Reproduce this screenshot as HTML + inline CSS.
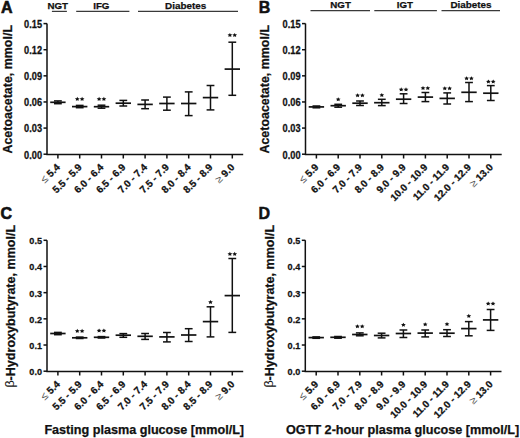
<!DOCTYPE html>
<html><head><meta charset="utf-8"><style>
html,body{margin:0;padding:0;background:#fff;}
body{width:520px;height:438px;overflow:hidden;}
svg{display:block;}
</style></head><body>
<svg width="520" height="438" viewBox="0 0 520 438" font-family='"Liberation Sans", sans-serif'>
<style>text{stroke:#111;stroke-width:0.25px} .sym{stroke:none}</style>
<rect width="520" height="438" fill="#fff"/>
<path d="M47.00 23.60 V154.50 H243.20" fill="none" stroke="#111" stroke-width="1.5"/>
<line x1="43.50" y1="154.20" x2="47.00" y2="154.20" stroke="#111" stroke-width="1.5"/>
<text transform="translate(42.00,158.60) scale(0.98,1.14)" font-size="9.4" font-weight="bold" text-anchor="end" fill="#111">0.00</text>
<line x1="43.50" y1="128.08" x2="47.00" y2="128.08" stroke="#111" stroke-width="1.5"/>
<text transform="translate(42.00,132.48) scale(0.98,1.14)" font-size="9.4" font-weight="bold" text-anchor="end" fill="#111">0.03</text>
<line x1="43.50" y1="101.96" x2="47.00" y2="101.96" stroke="#111" stroke-width="1.5"/>
<text transform="translate(42.00,106.36) scale(0.98,1.14)" font-size="9.4" font-weight="bold" text-anchor="end" fill="#111">0.06</text>
<line x1="43.50" y1="75.84" x2="47.00" y2="75.84" stroke="#111" stroke-width="1.5"/>
<text transform="translate(42.00,80.24) scale(0.98,1.14)" font-size="9.4" font-weight="bold" text-anchor="end" fill="#111">0.09</text>
<line x1="43.50" y1="49.72" x2="47.00" y2="49.72" stroke="#111" stroke-width="1.5"/>
<text transform="translate(42.00,54.12) scale(0.98,1.14)" font-size="9.4" font-weight="bold" text-anchor="end" fill="#111">0.12</text>
<line x1="43.50" y1="23.60" x2="47.00" y2="23.60" stroke="#111" stroke-width="1.5"/>
<text transform="translate(42.00,28.00) scale(0.98,1.14)" font-size="9.4" font-weight="bold" text-anchor="end" fill="#111">0.15</text>
<line x1="57.90" y1="154.20" x2="57.90" y2="158.50" stroke="#111" stroke-width="1.5"/>
<text transform="translate(60.70,167.90) rotate(-45)" font-size="10" text-anchor="end" fill="#111"><tspan class="sym" font-weight="normal" fill="#555" font-size="10.6">≤</tspan><tspan font-size="10"> </tspan><tspan font-weight="bold">5.4</tspan></text>
<line x1="79.70" y1="154.20" x2="79.70" y2="158.50" stroke="#111" stroke-width="1.5"/>
<text transform="translate(82.50,167.90) rotate(-45)" font-size="10" font-weight="bold" text-anchor="end" fill="#111">5.5 - 5.9</text>
<line x1="101.50" y1="154.20" x2="101.50" y2="158.50" stroke="#111" stroke-width="1.5"/>
<text transform="translate(104.30,167.90) rotate(-45)" font-size="10" font-weight="bold" text-anchor="end" fill="#111">6.0 - 6.4</text>
<line x1="123.30" y1="154.20" x2="123.30" y2="158.50" stroke="#111" stroke-width="1.5"/>
<text transform="translate(126.10,167.90) rotate(-45)" font-size="10" font-weight="bold" text-anchor="end" fill="#111">6.5 - 6.9</text>
<line x1="145.10" y1="154.20" x2="145.10" y2="158.50" stroke="#111" stroke-width="1.5"/>
<text transform="translate(147.90,167.90) rotate(-45)" font-size="10" font-weight="bold" text-anchor="end" fill="#111">7.0 - 7.4</text>
<line x1="166.90" y1="154.20" x2="166.90" y2="158.50" stroke="#111" stroke-width="1.5"/>
<text transform="translate(169.70,167.90) rotate(-45)" font-size="10" font-weight="bold" text-anchor="end" fill="#111">7.5 - 7.9</text>
<line x1="188.70" y1="154.20" x2="188.70" y2="158.50" stroke="#111" stroke-width="1.5"/>
<text transform="translate(191.50,167.90) rotate(-45)" font-size="10" font-weight="bold" text-anchor="end" fill="#111">8.0 - 8.4</text>
<line x1="210.50" y1="154.20" x2="210.50" y2="158.50" stroke="#111" stroke-width="1.5"/>
<text transform="translate(213.30,167.90) rotate(-45)" font-size="10" font-weight="bold" text-anchor="end" fill="#111">8.5 - 8.9</text>
<line x1="232.30" y1="154.20" x2="232.30" y2="158.50" stroke="#111" stroke-width="1.5"/>
<text transform="translate(235.10,167.90) rotate(-45)" font-size="10" text-anchor="end" fill="#111"><tspan class="sym" font-weight="normal" fill="#555" font-size="10.6">≥</tspan><tspan font-size="10"> </tspan><tspan font-weight="bold">9.0</tspan></text>
<line x1="57.90" y1="100.90" x2="57.90" y2="103.70" stroke="#111" stroke-width="1.5"/>
<line x1="54.00" y1="100.90" x2="61.80" y2="100.90" stroke="#111" stroke-width="1.5"/>
<line x1="54.00" y1="103.70" x2="61.80" y2="103.70" stroke="#111" stroke-width="1.5"/>
<line x1="50.20" y1="102.30" x2="65.60" y2="102.30" stroke="#111" stroke-width="1.7"/>
<line x1="79.70" y1="105.40" x2="79.70" y2="107.70" stroke="#111" stroke-width="1.5"/>
<line x1="75.80" y1="105.40" x2="83.60" y2="105.40" stroke="#111" stroke-width="1.5"/>
<line x1="75.80" y1="107.70" x2="83.60" y2="107.70" stroke="#111" stroke-width="1.5"/>
<line x1="72.00" y1="106.60" x2="87.40" y2="106.60" stroke="#111" stroke-width="1.7"/>
<polygon points="77.30,96.85 78.03,98.16 79.68,98.37 78.49,99.39 78.77,100.83 77.30,100.15 75.83,100.83 76.11,99.39 74.92,98.37 76.57,98.16" fill="#111"/>
<polygon points="82.10,96.85 82.83,98.16 84.48,98.37 83.29,99.39 83.57,100.83 82.10,100.15 80.63,100.83 80.91,99.39 79.72,98.37 81.37,98.16" fill="#111"/>
<line x1="101.50" y1="105.20" x2="101.50" y2="108.20" stroke="#111" stroke-width="1.5"/>
<line x1="97.60" y1="105.20" x2="105.40" y2="105.20" stroke="#111" stroke-width="1.5"/>
<line x1="97.60" y1="108.20" x2="105.40" y2="108.20" stroke="#111" stroke-width="1.5"/>
<line x1="93.80" y1="106.70" x2="109.20" y2="106.70" stroke="#111" stroke-width="1.7"/>
<polygon points="99.10,96.85 99.83,98.16 101.48,98.37 100.29,99.39 100.57,100.83 99.10,100.15 97.63,100.83 97.91,99.39 96.72,98.37 98.37,98.16" fill="#111"/>
<polygon points="103.90,96.85 104.63,98.16 106.28,98.37 105.09,99.39 105.37,100.83 103.90,100.15 102.43,100.83 102.71,99.39 101.52,98.37 103.17,98.16" fill="#111"/>
<line x1="123.30" y1="100.40" x2="123.30" y2="106.00" stroke="#111" stroke-width="1.5"/>
<line x1="119.40" y1="100.40" x2="127.20" y2="100.40" stroke="#111" stroke-width="1.5"/>
<line x1="119.40" y1="106.00" x2="127.20" y2="106.00" stroke="#111" stroke-width="1.5"/>
<line x1="115.60" y1="103.20" x2="131.00" y2="103.20" stroke="#111" stroke-width="1.7"/>
<line x1="145.10" y1="100.00" x2="145.10" y2="108.70" stroke="#111" stroke-width="1.5"/>
<line x1="141.20" y1="100.00" x2="149.00" y2="100.00" stroke="#111" stroke-width="1.5"/>
<line x1="141.20" y1="108.70" x2="149.00" y2="108.70" stroke="#111" stroke-width="1.5"/>
<line x1="137.40" y1="104.40" x2="152.80" y2="104.40" stroke="#111" stroke-width="1.7"/>
<line x1="166.90" y1="97.10" x2="166.90" y2="110.20" stroke="#111" stroke-width="1.5"/>
<line x1="163.00" y1="97.10" x2="170.80" y2="97.10" stroke="#111" stroke-width="1.5"/>
<line x1="163.00" y1="110.20" x2="170.80" y2="110.20" stroke="#111" stroke-width="1.5"/>
<line x1="159.20" y1="103.50" x2="174.60" y2="103.50" stroke="#111" stroke-width="1.7"/>
<line x1="188.70" y1="91.90" x2="188.70" y2="115.60" stroke="#111" stroke-width="1.5"/>
<line x1="184.80" y1="91.90" x2="192.60" y2="91.90" stroke="#111" stroke-width="1.5"/>
<line x1="184.80" y1="115.60" x2="192.60" y2="115.60" stroke="#111" stroke-width="1.5"/>
<line x1="181.00" y1="103.50" x2="196.40" y2="103.50" stroke="#111" stroke-width="1.7"/>
<line x1="210.50" y1="85.50" x2="210.50" y2="109.90" stroke="#111" stroke-width="1.5"/>
<line x1="206.60" y1="85.50" x2="214.40" y2="85.50" stroke="#111" stroke-width="1.5"/>
<line x1="206.60" y1="109.90" x2="214.40" y2="109.90" stroke="#111" stroke-width="1.5"/>
<line x1="202.80" y1="97.60" x2="218.20" y2="97.60" stroke="#111" stroke-width="1.7"/>
<line x1="232.30" y1="42.20" x2="232.30" y2="95.30" stroke="#111" stroke-width="1.5"/>
<line x1="228.40" y1="42.20" x2="236.20" y2="42.20" stroke="#111" stroke-width="1.5"/>
<line x1="228.40" y1="95.30" x2="236.20" y2="95.30" stroke="#111" stroke-width="1.5"/>
<line x1="224.60" y1="69.10" x2="240.00" y2="69.10" stroke="#111" stroke-width="1.7"/>
<polygon points="229.90,33.05 230.63,34.36 232.28,34.57 231.09,35.59 231.37,37.03 229.90,36.35 228.43,37.03 228.71,35.59 227.52,34.57 229.17,34.36" fill="#111"/>
<polygon points="234.70,33.05 235.43,34.36 237.08,34.57 235.89,35.59 236.17,37.03 234.70,36.35 233.23,37.03 233.51,35.59 232.32,34.57 233.97,34.36" fill="#111"/>
<text transform="translate(11.50,89.30) rotate(-90)" font-size="12.45" font-weight="bold" text-anchor="middle" fill="#111">Acetoacetate, mmol/L</text>
<path d="M305.50 23.60 V154.50 H501.70" fill="none" stroke="#111" stroke-width="1.5"/>
<line x1="302.00" y1="154.20" x2="305.50" y2="154.20" stroke="#111" stroke-width="1.5"/>
<text transform="translate(300.50,158.60) scale(0.98,1.14)" font-size="9.4" font-weight="bold" text-anchor="end" fill="#111">0.00</text>
<line x1="302.00" y1="128.08" x2="305.50" y2="128.08" stroke="#111" stroke-width="1.5"/>
<text transform="translate(300.50,132.48) scale(0.98,1.14)" font-size="9.4" font-weight="bold" text-anchor="end" fill="#111">0.03</text>
<line x1="302.00" y1="101.96" x2="305.50" y2="101.96" stroke="#111" stroke-width="1.5"/>
<text transform="translate(300.50,106.36) scale(0.98,1.14)" font-size="9.4" font-weight="bold" text-anchor="end" fill="#111">0.06</text>
<line x1="302.00" y1="75.84" x2="305.50" y2="75.84" stroke="#111" stroke-width="1.5"/>
<text transform="translate(300.50,80.24) scale(0.98,1.14)" font-size="9.4" font-weight="bold" text-anchor="end" fill="#111">0.09</text>
<line x1="302.00" y1="49.72" x2="305.50" y2="49.72" stroke="#111" stroke-width="1.5"/>
<text transform="translate(300.50,54.12) scale(0.98,1.14)" font-size="9.4" font-weight="bold" text-anchor="end" fill="#111">0.12</text>
<line x1="302.00" y1="23.60" x2="305.50" y2="23.60" stroke="#111" stroke-width="1.5"/>
<text transform="translate(300.50,28.00) scale(0.98,1.14)" font-size="9.4" font-weight="bold" text-anchor="end" fill="#111">0.15</text>
<line x1="316.40" y1="154.20" x2="316.40" y2="158.50" stroke="#111" stroke-width="1.5"/>
<text transform="translate(319.20,167.90) rotate(-45)" font-size="10" text-anchor="end" fill="#111"><tspan class="sym" font-weight="normal" fill="#555" font-size="10.6">≤</tspan><tspan font-size="10"> </tspan><tspan font-weight="bold">5.9</tspan></text>
<line x1="338.20" y1="154.20" x2="338.20" y2="158.50" stroke="#111" stroke-width="1.5"/>
<text transform="translate(341.00,167.90) rotate(-45)" font-size="10" font-weight="bold" text-anchor="end" fill="#111">6.0 - 6.9</text>
<line x1="360.00" y1="154.20" x2="360.00" y2="158.50" stroke="#111" stroke-width="1.5"/>
<text transform="translate(362.80,167.90) rotate(-45)" font-size="10" font-weight="bold" text-anchor="end" fill="#111">7.0 - 7.9</text>
<line x1="381.80" y1="154.20" x2="381.80" y2="158.50" stroke="#111" stroke-width="1.5"/>
<text transform="translate(384.60,167.90) rotate(-45)" font-size="10" font-weight="bold" text-anchor="end" fill="#111">8.0 - 8.9</text>
<line x1="403.60" y1="154.20" x2="403.60" y2="158.50" stroke="#111" stroke-width="1.5"/>
<text transform="translate(406.40,167.90) rotate(-45)" font-size="10" font-weight="bold" text-anchor="end" fill="#111">9.0 - 9.9</text>
<line x1="425.40" y1="154.20" x2="425.40" y2="158.50" stroke="#111" stroke-width="1.5"/>
<text transform="translate(428.20,167.90) rotate(-45)" font-size="10" font-weight="bold" text-anchor="end" fill="#111">10.0 - 10.9</text>
<line x1="447.20" y1="154.20" x2="447.20" y2="158.50" stroke="#111" stroke-width="1.5"/>
<text transform="translate(450.00,167.90) rotate(-45)" font-size="10" font-weight="bold" text-anchor="end" fill="#111">11.0 - 11.9</text>
<line x1="469.00" y1="154.20" x2="469.00" y2="158.50" stroke="#111" stroke-width="1.5"/>
<text transform="translate(471.80,167.90) rotate(-45)" font-size="10" font-weight="bold" text-anchor="end" fill="#111">12.0 - 12.9</text>
<line x1="490.80" y1="154.20" x2="490.80" y2="158.50" stroke="#111" stroke-width="1.5"/>
<text transform="translate(493.60,167.90) rotate(-45)" font-size="10" text-anchor="end" fill="#111"><tspan class="sym" font-weight="normal" fill="#555" font-size="10.6">≥</tspan><tspan font-size="10"> </tspan><tspan font-weight="bold">13.0</tspan></text>
<line x1="316.40" y1="106.00" x2="316.40" y2="107.80" stroke="#111" stroke-width="1.5"/>
<line x1="312.50" y1="106.00" x2="320.30" y2="106.00" stroke="#111" stroke-width="1.5"/>
<line x1="312.50" y1="107.80" x2="320.30" y2="107.80" stroke="#111" stroke-width="1.5"/>
<line x1="308.70" y1="106.90" x2="324.10" y2="106.90" stroke="#111" stroke-width="1.7"/>
<line x1="338.20" y1="104.30" x2="338.20" y2="107.20" stroke="#111" stroke-width="1.5"/>
<line x1="334.30" y1="104.30" x2="342.10" y2="104.30" stroke="#111" stroke-width="1.5"/>
<line x1="334.30" y1="107.20" x2="342.10" y2="107.20" stroke="#111" stroke-width="1.5"/>
<line x1="330.50" y1="105.70" x2="345.90" y2="105.70" stroke="#111" stroke-width="1.7"/>
<polygon points="338.20,97.15 338.93,98.46 340.58,98.67 339.39,99.69 339.67,101.13 338.20,100.45 336.73,101.13 337.01,99.69 335.82,98.67 337.47,98.46" fill="#111"/>
<line x1="360.00" y1="101.00" x2="360.00" y2="105.50" stroke="#111" stroke-width="1.5"/>
<line x1="356.10" y1="101.00" x2="363.90" y2="101.00" stroke="#111" stroke-width="1.5"/>
<line x1="356.10" y1="105.50" x2="363.90" y2="105.50" stroke="#111" stroke-width="1.5"/>
<line x1="352.30" y1="103.20" x2="367.70" y2="103.20" stroke="#111" stroke-width="1.7"/>
<polygon points="357.60,93.25 358.33,94.56 359.98,94.77 358.79,95.79 359.07,97.23 357.60,96.55 356.13,97.23 356.41,95.79 355.22,94.77 356.87,94.56" fill="#111"/>
<polygon points="362.40,93.25 363.13,94.56 364.78,94.77 363.59,95.79 363.87,97.23 362.40,96.55 360.93,97.23 361.21,95.79 360.02,94.77 361.67,94.56" fill="#111"/>
<line x1="381.80" y1="99.30" x2="381.80" y2="105.60" stroke="#111" stroke-width="1.5"/>
<line x1="377.90" y1="99.30" x2="385.70" y2="99.30" stroke="#111" stroke-width="1.5"/>
<line x1="377.90" y1="105.60" x2="385.70" y2="105.60" stroke="#111" stroke-width="1.5"/>
<line x1="374.10" y1="102.70" x2="389.50" y2="102.70" stroke="#111" stroke-width="1.7"/>
<polygon points="381.80,93.05 382.53,94.36 384.18,94.57 382.99,95.59 383.27,97.03 381.80,96.35 380.33,97.03 380.61,95.59 379.42,94.57 381.07,94.36" fill="#111"/>
<line x1="403.60" y1="93.80" x2="403.60" y2="103.50" stroke="#111" stroke-width="1.5"/>
<line x1="399.70" y1="93.80" x2="407.50" y2="93.80" stroke="#111" stroke-width="1.5"/>
<line x1="399.70" y1="103.50" x2="407.50" y2="103.50" stroke="#111" stroke-width="1.5"/>
<line x1="395.90" y1="99.20" x2="411.30" y2="99.20" stroke="#111" stroke-width="1.7"/>
<polygon points="401.20,87.35 401.93,88.66 403.58,88.87 402.39,89.89 402.67,91.33 401.20,90.65 399.73,91.33 400.01,89.89 398.82,88.87 400.47,88.66" fill="#111"/>
<polygon points="406.00,87.35 406.73,88.66 408.38,88.87 407.19,89.89 407.47,91.33 406.00,90.65 404.53,91.33 404.81,89.89 403.62,88.87 405.27,88.66" fill="#111"/>
<line x1="425.40" y1="92.50" x2="425.40" y2="101.60" stroke="#111" stroke-width="1.5"/>
<line x1="421.50" y1="92.50" x2="429.30" y2="92.50" stroke="#111" stroke-width="1.5"/>
<line x1="421.50" y1="101.60" x2="429.30" y2="101.60" stroke="#111" stroke-width="1.5"/>
<line x1="417.70" y1="97.10" x2="433.10" y2="97.10" stroke="#111" stroke-width="1.7"/>
<polygon points="423.00,86.05 423.73,87.36 425.38,87.57 424.19,88.59 424.47,90.03 423.00,89.35 421.53,90.03 421.81,88.59 420.62,87.57 422.27,87.36" fill="#111"/>
<polygon points="427.80,86.05 428.53,87.36 430.18,87.57 428.99,88.59 429.27,90.03 427.80,89.35 426.33,90.03 426.61,88.59 425.42,87.57 427.07,87.36" fill="#111"/>
<line x1="447.20" y1="92.90" x2="447.20" y2="104.00" stroke="#111" stroke-width="1.5"/>
<line x1="443.30" y1="92.90" x2="451.10" y2="92.90" stroke="#111" stroke-width="1.5"/>
<line x1="443.30" y1="104.00" x2="451.10" y2="104.00" stroke="#111" stroke-width="1.5"/>
<line x1="439.50" y1="98.40" x2="454.90" y2="98.40" stroke="#111" stroke-width="1.7"/>
<polygon points="444.80,86.15 445.53,87.46 447.18,87.67 445.99,88.69 446.27,90.13 444.80,89.45 443.33,90.13 443.61,88.69 442.42,87.67 444.07,87.46" fill="#111"/>
<polygon points="449.60,86.15 450.33,87.46 451.98,87.67 450.79,88.69 451.07,90.13 449.60,89.45 448.13,90.13 448.41,88.69 447.22,87.67 448.87,87.46" fill="#111"/>
<line x1="469.00" y1="82.50" x2="469.00" y2="101.60" stroke="#111" stroke-width="1.5"/>
<line x1="465.10" y1="82.50" x2="472.90" y2="82.50" stroke="#111" stroke-width="1.5"/>
<line x1="465.10" y1="101.60" x2="472.90" y2="101.60" stroke="#111" stroke-width="1.5"/>
<line x1="461.30" y1="92.30" x2="476.70" y2="92.30" stroke="#111" stroke-width="1.7"/>
<polygon points="466.60,76.15 467.33,77.46 468.98,77.67 467.79,78.69 468.07,80.13 466.60,79.45 465.13,80.13 465.41,78.69 464.22,77.67 465.87,77.46" fill="#111"/>
<polygon points="471.40,76.15 472.13,77.46 473.78,77.67 472.59,78.69 472.87,80.13 471.40,79.45 469.93,80.13 470.21,78.69 469.02,77.67 470.67,77.46" fill="#111"/>
<line x1="490.80" y1="85.60" x2="490.80" y2="100.50" stroke="#111" stroke-width="1.5"/>
<line x1="486.90" y1="85.60" x2="494.70" y2="85.60" stroke="#111" stroke-width="1.5"/>
<line x1="486.90" y1="100.50" x2="494.70" y2="100.50" stroke="#111" stroke-width="1.5"/>
<line x1="483.10" y1="93.20" x2="498.50" y2="93.20" stroke="#111" stroke-width="1.7"/>
<polygon points="488.40,79.45 489.13,80.76 490.78,80.97 489.59,81.99 489.87,83.43 488.40,82.75 486.93,83.43 487.21,81.99 486.02,80.97 487.67,80.76" fill="#111"/>
<polygon points="493.20,79.45 493.93,80.76 495.58,80.97 494.39,81.99 494.67,83.43 493.20,82.75 491.73,83.43 492.01,81.99 490.82,80.97 492.47,80.76" fill="#111"/>
<text transform="translate(269.40,89.30) rotate(-90)" font-size="12.45" font-weight="bold" text-anchor="middle" fill="#111">Acetoacetate, mmol/L</text>
<path d="M47.00 240.30 V371.50 H243.20" fill="none" stroke="#111" stroke-width="1.5"/>
<line x1="43.50" y1="371.20" x2="47.00" y2="371.20" stroke="#111" stroke-width="1.5"/>
<text transform="translate(42.00,375.05) scale(0.96,1.04)" font-size="9.5" font-weight="bold" text-anchor="end" fill="#111">0.0</text>
<line x1="43.50" y1="345.02" x2="47.00" y2="345.02" stroke="#111" stroke-width="1.5"/>
<text transform="translate(42.00,348.87) scale(0.96,1.04)" font-size="9.5" font-weight="bold" text-anchor="end" fill="#111">0.1</text>
<line x1="43.50" y1="318.84" x2="47.00" y2="318.84" stroke="#111" stroke-width="1.5"/>
<text transform="translate(42.00,322.69) scale(0.96,1.04)" font-size="9.5" font-weight="bold" text-anchor="end" fill="#111">0.2</text>
<line x1="43.50" y1="292.66" x2="47.00" y2="292.66" stroke="#111" stroke-width="1.5"/>
<text transform="translate(42.00,296.51) scale(0.96,1.04)" font-size="9.5" font-weight="bold" text-anchor="end" fill="#111">0.3</text>
<line x1="43.50" y1="266.48" x2="47.00" y2="266.48" stroke="#111" stroke-width="1.5"/>
<text transform="translate(42.00,270.33) scale(0.96,1.04)" font-size="9.5" font-weight="bold" text-anchor="end" fill="#111">0.4</text>
<line x1="43.50" y1="240.30" x2="47.00" y2="240.30" stroke="#111" stroke-width="1.5"/>
<text transform="translate(42.00,244.15) scale(0.96,1.04)" font-size="9.5" font-weight="bold" text-anchor="end" fill="#111">0.5</text>
<line x1="57.90" y1="371.20" x2="57.90" y2="375.50" stroke="#111" stroke-width="1.5"/>
<text transform="translate(60.70,384.90) rotate(-45)" font-size="10" text-anchor="end" fill="#111"><tspan class="sym" font-weight="normal" fill="#555" font-size="10.6">≤</tspan><tspan font-size="10"> </tspan><tspan font-weight="bold">5.4</tspan></text>
<line x1="79.70" y1="371.20" x2="79.70" y2="375.50" stroke="#111" stroke-width="1.5"/>
<text transform="translate(82.50,384.90) rotate(-45)" font-size="10" font-weight="bold" text-anchor="end" fill="#111">5.5 - 5.9</text>
<line x1="101.50" y1="371.20" x2="101.50" y2="375.50" stroke="#111" stroke-width="1.5"/>
<text transform="translate(104.30,384.90) rotate(-45)" font-size="10" font-weight="bold" text-anchor="end" fill="#111">6.0 - 6.4</text>
<line x1="123.30" y1="371.20" x2="123.30" y2="375.50" stroke="#111" stroke-width="1.5"/>
<text transform="translate(126.10,384.90) rotate(-45)" font-size="10" font-weight="bold" text-anchor="end" fill="#111">6.5 - 6.9</text>
<line x1="145.10" y1="371.20" x2="145.10" y2="375.50" stroke="#111" stroke-width="1.5"/>
<text transform="translate(147.90,384.90) rotate(-45)" font-size="10" font-weight="bold" text-anchor="end" fill="#111">7.0 - 7.4</text>
<line x1="166.90" y1="371.20" x2="166.90" y2="375.50" stroke="#111" stroke-width="1.5"/>
<text transform="translate(169.70,384.90) rotate(-45)" font-size="10" font-weight="bold" text-anchor="end" fill="#111">7.5 - 7.9</text>
<line x1="188.70" y1="371.20" x2="188.70" y2="375.50" stroke="#111" stroke-width="1.5"/>
<text transform="translate(191.50,384.90) rotate(-45)" font-size="10" font-weight="bold" text-anchor="end" fill="#111">8.0 - 8.4</text>
<line x1="210.50" y1="371.20" x2="210.50" y2="375.50" stroke="#111" stroke-width="1.5"/>
<text transform="translate(213.30,384.90) rotate(-45)" font-size="10" font-weight="bold" text-anchor="end" fill="#111">8.5 - 8.9</text>
<line x1="232.30" y1="371.20" x2="232.30" y2="375.50" stroke="#111" stroke-width="1.5"/>
<text transform="translate(235.10,384.90) rotate(-45)" font-size="10" text-anchor="end" fill="#111"><tspan class="sym" font-weight="normal" fill="#555" font-size="10.6">≥</tspan><tspan font-size="10"> </tspan><tspan font-weight="bold">9.0</tspan></text>
<line x1="57.90" y1="332.40" x2="57.90" y2="334.70" stroke="#111" stroke-width="1.5"/>
<line x1="54.00" y1="332.40" x2="61.80" y2="332.40" stroke="#111" stroke-width="1.5"/>
<line x1="54.00" y1="334.70" x2="61.80" y2="334.70" stroke="#111" stroke-width="1.5"/>
<line x1="50.20" y1="333.50" x2="65.60" y2="333.50" stroke="#111" stroke-width="1.7"/>
<line x1="79.70" y1="337.10" x2="79.70" y2="338.50" stroke="#111" stroke-width="1.5"/>
<line x1="75.80" y1="337.10" x2="83.60" y2="337.10" stroke="#111" stroke-width="1.5"/>
<line x1="75.80" y1="338.50" x2="83.60" y2="338.50" stroke="#111" stroke-width="1.5"/>
<line x1="72.00" y1="337.80" x2="87.40" y2="337.80" stroke="#111" stroke-width="1.7"/>
<polygon points="77.30,328.85 78.03,330.16 79.68,330.37 78.49,331.39 78.77,332.83 77.30,332.15 75.83,332.83 76.11,331.39 74.92,330.37 76.57,330.16" fill="#111"/>
<polygon points="82.10,328.85 82.83,330.16 84.48,330.37 83.29,331.39 83.57,332.83 82.10,332.15 80.63,332.83 80.91,331.39 79.72,330.37 81.37,330.16" fill="#111"/>
<line x1="101.50" y1="336.60" x2="101.50" y2="338.00" stroke="#111" stroke-width="1.5"/>
<line x1="97.60" y1="336.60" x2="105.40" y2="336.60" stroke="#111" stroke-width="1.5"/>
<line x1="97.60" y1="338.00" x2="105.40" y2="338.00" stroke="#111" stroke-width="1.5"/>
<line x1="93.80" y1="337.30" x2="109.20" y2="337.30" stroke="#111" stroke-width="1.7"/>
<polygon points="99.10,328.55 99.83,329.86 101.48,330.07 100.29,331.09 100.57,332.53 99.10,331.85 97.63,332.53 97.91,331.09 96.72,330.07 98.37,329.86" fill="#111"/>
<polygon points="103.90,328.55 104.63,329.86 106.28,330.07 105.09,331.09 105.37,332.53 103.90,331.85 102.43,332.53 102.71,331.09 101.52,330.07 103.17,329.86" fill="#111"/>
<line x1="123.30" y1="333.60" x2="123.30" y2="337.30" stroke="#111" stroke-width="1.5"/>
<line x1="119.40" y1="333.60" x2="127.20" y2="333.60" stroke="#111" stroke-width="1.5"/>
<line x1="119.40" y1="337.30" x2="127.20" y2="337.30" stroke="#111" stroke-width="1.5"/>
<line x1="115.60" y1="335.20" x2="131.00" y2="335.20" stroke="#111" stroke-width="1.7"/>
<line x1="145.10" y1="333.50" x2="145.10" y2="339.40" stroke="#111" stroke-width="1.5"/>
<line x1="141.20" y1="333.50" x2="149.00" y2="333.50" stroke="#111" stroke-width="1.5"/>
<line x1="141.20" y1="339.40" x2="149.00" y2="339.40" stroke="#111" stroke-width="1.5"/>
<line x1="137.40" y1="336.30" x2="152.80" y2="336.30" stroke="#111" stroke-width="1.7"/>
<line x1="166.90" y1="332.50" x2="166.90" y2="341.90" stroke="#111" stroke-width="1.5"/>
<line x1="163.00" y1="332.50" x2="170.80" y2="332.50" stroke="#111" stroke-width="1.5"/>
<line x1="163.00" y1="341.90" x2="170.80" y2="341.90" stroke="#111" stroke-width="1.5"/>
<line x1="159.20" y1="336.90" x2="174.60" y2="336.90" stroke="#111" stroke-width="1.7"/>
<line x1="188.70" y1="328.70" x2="188.70" y2="341.50" stroke="#111" stroke-width="1.5"/>
<line x1="184.80" y1="328.70" x2="192.60" y2="328.70" stroke="#111" stroke-width="1.5"/>
<line x1="184.80" y1="341.50" x2="192.60" y2="341.50" stroke="#111" stroke-width="1.5"/>
<line x1="181.00" y1="335.00" x2="196.40" y2="335.00" stroke="#111" stroke-width="1.7"/>
<line x1="210.50" y1="306.80" x2="210.50" y2="336.90" stroke="#111" stroke-width="1.5"/>
<line x1="206.60" y1="306.80" x2="214.40" y2="306.80" stroke="#111" stroke-width="1.5"/>
<line x1="206.60" y1="336.90" x2="214.40" y2="336.90" stroke="#111" stroke-width="1.5"/>
<line x1="202.80" y1="321.60" x2="218.20" y2="321.60" stroke="#111" stroke-width="1.7"/>
<polygon points="210.50,300.05 211.23,301.36 212.88,301.57 211.69,302.59 211.97,304.03 210.50,303.35 209.03,304.03 209.31,302.59 208.12,301.57 209.77,301.36" fill="#111"/>
<line x1="232.30" y1="258.50" x2="232.30" y2="332.40" stroke="#111" stroke-width="1.5"/>
<line x1="228.40" y1="258.50" x2="236.20" y2="258.50" stroke="#111" stroke-width="1.5"/>
<line x1="228.40" y1="332.40" x2="236.20" y2="332.40" stroke="#111" stroke-width="1.5"/>
<line x1="224.60" y1="295.60" x2="240.00" y2="295.60" stroke="#111" stroke-width="1.7"/>
<polygon points="229.90,251.85 230.63,253.16 232.28,253.37 231.09,254.39 231.37,255.83 229.90,255.15 228.43,255.83 228.71,254.39 227.52,253.37 229.17,253.16" fill="#111"/>
<polygon points="234.70,251.85 235.43,253.16 237.08,253.37 235.89,254.39 236.17,255.83 234.70,255.15 233.23,255.83 233.51,254.39 232.32,253.37 233.97,253.16" fill="#111"/>
<text transform="translate(14.70,306.25) rotate(-90)" font-size="12.55" text-anchor="middle" fill="#111"><tspan class="sym" font-weight="normal" dy="-1.2">β</tspan><tspan font-weight="bold" dy="1.2">-Hydroxybutyrate, mmol/L</tspan></text>
<path d="M305.30 240.30 V371.50 H501.50" fill="none" stroke="#111" stroke-width="1.5"/>
<line x1="301.80" y1="371.20" x2="305.30" y2="371.20" stroke="#111" stroke-width="1.5"/>
<text transform="translate(300.30,375.05) scale(0.96,1.04)" font-size="9.5" font-weight="bold" text-anchor="end" fill="#111">0.0</text>
<line x1="301.80" y1="345.02" x2="305.30" y2="345.02" stroke="#111" stroke-width="1.5"/>
<text transform="translate(300.30,348.87) scale(0.96,1.04)" font-size="9.5" font-weight="bold" text-anchor="end" fill="#111">0.1</text>
<line x1="301.80" y1="318.84" x2="305.30" y2="318.84" stroke="#111" stroke-width="1.5"/>
<text transform="translate(300.30,322.69) scale(0.96,1.04)" font-size="9.5" font-weight="bold" text-anchor="end" fill="#111">0.2</text>
<line x1="301.80" y1="292.66" x2="305.30" y2="292.66" stroke="#111" stroke-width="1.5"/>
<text transform="translate(300.30,296.51) scale(0.96,1.04)" font-size="9.5" font-weight="bold" text-anchor="end" fill="#111">0.3</text>
<line x1="301.80" y1="266.48" x2="305.30" y2="266.48" stroke="#111" stroke-width="1.5"/>
<text transform="translate(300.30,270.33) scale(0.96,1.04)" font-size="9.5" font-weight="bold" text-anchor="end" fill="#111">0.4</text>
<line x1="301.80" y1="240.30" x2="305.30" y2="240.30" stroke="#111" stroke-width="1.5"/>
<text transform="translate(300.30,244.15) scale(0.96,1.04)" font-size="9.5" font-weight="bold" text-anchor="end" fill="#111">0.5</text>
<line x1="316.20" y1="371.20" x2="316.20" y2="375.50" stroke="#111" stroke-width="1.5"/>
<text transform="translate(319.00,384.90) rotate(-45)" font-size="10" text-anchor="end" fill="#111"><tspan class="sym" font-weight="normal" fill="#555" font-size="10.6">≤</tspan><tspan font-size="10"> </tspan><tspan font-weight="bold">5.9</tspan></text>
<line x1="338.00" y1="371.20" x2="338.00" y2="375.50" stroke="#111" stroke-width="1.5"/>
<text transform="translate(340.80,384.90) rotate(-45)" font-size="10" font-weight="bold" text-anchor="end" fill="#111">6.0 - 6.9</text>
<line x1="359.80" y1="371.20" x2="359.80" y2="375.50" stroke="#111" stroke-width="1.5"/>
<text transform="translate(362.60,384.90) rotate(-45)" font-size="10" font-weight="bold" text-anchor="end" fill="#111">7.0 - 7.9</text>
<line x1="381.60" y1="371.20" x2="381.60" y2="375.50" stroke="#111" stroke-width="1.5"/>
<text transform="translate(384.40,384.90) rotate(-45)" font-size="10" font-weight="bold" text-anchor="end" fill="#111">8.0 - 8.9</text>
<line x1="403.40" y1="371.20" x2="403.40" y2="375.50" stroke="#111" stroke-width="1.5"/>
<text transform="translate(406.20,384.90) rotate(-45)" font-size="10" font-weight="bold" text-anchor="end" fill="#111">9.0 - 9.9</text>
<line x1="425.20" y1="371.20" x2="425.20" y2="375.50" stroke="#111" stroke-width="1.5"/>
<text transform="translate(428.00,384.90) rotate(-45)" font-size="10" font-weight="bold" text-anchor="end" fill="#111">10.0 - 10.9</text>
<line x1="447.00" y1="371.20" x2="447.00" y2="375.50" stroke="#111" stroke-width="1.5"/>
<text transform="translate(449.80,384.90) rotate(-45)" font-size="10" font-weight="bold" text-anchor="end" fill="#111">11.0 - 11.9</text>
<line x1="468.80" y1="371.20" x2="468.80" y2="375.50" stroke="#111" stroke-width="1.5"/>
<text transform="translate(471.60,384.90) rotate(-45)" font-size="10" font-weight="bold" text-anchor="end" fill="#111">12.0 - 12.9</text>
<line x1="490.60" y1="371.20" x2="490.60" y2="375.50" stroke="#111" stroke-width="1.5"/>
<text transform="translate(493.40,384.90) rotate(-45)" font-size="10" text-anchor="end" fill="#111"><tspan class="sym" font-weight="normal" fill="#555" font-size="10.6">≥</tspan><tspan font-size="10"> </tspan><tspan font-weight="bold">13.0</tspan></text>
<line x1="316.20" y1="336.90" x2="316.20" y2="338.30" stroke="#111" stroke-width="1.5"/>
<line x1="312.30" y1="336.90" x2="320.10" y2="336.90" stroke="#111" stroke-width="1.5"/>
<line x1="312.30" y1="338.30" x2="320.10" y2="338.30" stroke="#111" stroke-width="1.5"/>
<line x1="308.50" y1="337.60" x2="323.90" y2="337.60" stroke="#111" stroke-width="1.7"/>
<line x1="338.00" y1="336.50" x2="338.00" y2="338.20" stroke="#111" stroke-width="1.5"/>
<line x1="334.10" y1="336.50" x2="341.90" y2="336.50" stroke="#111" stroke-width="1.5"/>
<line x1="334.10" y1="338.20" x2="341.90" y2="338.20" stroke="#111" stroke-width="1.5"/>
<line x1="330.30" y1="337.30" x2="345.70" y2="337.30" stroke="#111" stroke-width="1.7"/>
<line x1="359.80" y1="332.90" x2="359.80" y2="335.80" stroke="#111" stroke-width="1.5"/>
<line x1="355.90" y1="332.90" x2="363.70" y2="332.90" stroke="#111" stroke-width="1.5"/>
<line x1="355.90" y1="335.80" x2="363.70" y2="335.80" stroke="#111" stroke-width="1.5"/>
<line x1="352.10" y1="334.50" x2="367.50" y2="334.50" stroke="#111" stroke-width="1.7"/>
<polygon points="357.40,324.25 358.13,325.56 359.78,325.77 358.59,326.79 358.87,328.23 357.40,327.55 355.93,328.23 356.21,326.79 355.02,325.77 356.67,325.56" fill="#111"/>
<polygon points="362.20,324.25 362.93,325.56 364.58,325.77 363.39,326.79 363.67,328.23 362.20,327.55 360.73,328.23 361.01,326.79 359.82,325.77 361.47,325.56" fill="#111"/>
<line x1="381.60" y1="333.20" x2="381.60" y2="337.90" stroke="#111" stroke-width="1.5"/>
<line x1="377.70" y1="333.20" x2="385.50" y2="333.20" stroke="#111" stroke-width="1.5"/>
<line x1="377.70" y1="337.90" x2="385.50" y2="337.90" stroke="#111" stroke-width="1.5"/>
<line x1="373.90" y1="335.50" x2="389.30" y2="335.50" stroke="#111" stroke-width="1.7"/>
<line x1="403.40" y1="330.00" x2="403.40" y2="337.50" stroke="#111" stroke-width="1.5"/>
<line x1="399.50" y1="330.00" x2="407.30" y2="330.00" stroke="#111" stroke-width="1.5"/>
<line x1="399.50" y1="337.50" x2="407.30" y2="337.50" stroke="#111" stroke-width="1.5"/>
<line x1="395.70" y1="333.50" x2="411.10" y2="333.50" stroke="#111" stroke-width="1.7"/>
<polygon points="403.40,322.80 404.13,324.11 405.78,324.32 404.59,325.34 404.87,326.78 403.40,326.10 401.93,326.78 402.21,325.34 401.02,324.32 402.67,324.11" fill="#111"/>
<line x1="425.20" y1="330.00" x2="425.20" y2="336.90" stroke="#111" stroke-width="1.5"/>
<line x1="421.30" y1="330.00" x2="429.10" y2="330.00" stroke="#111" stroke-width="1.5"/>
<line x1="421.30" y1="336.90" x2="429.10" y2="336.90" stroke="#111" stroke-width="1.5"/>
<line x1="417.50" y1="333.10" x2="432.90" y2="333.10" stroke="#111" stroke-width="1.7"/>
<polygon points="425.20,322.15 425.93,323.46 427.58,323.67 426.39,324.69 426.67,326.13 425.20,325.45 423.73,326.13 424.01,324.69 422.82,323.67 424.47,323.46" fill="#111"/>
<line x1="447.00" y1="329.70" x2="447.00" y2="336.50" stroke="#111" stroke-width="1.5"/>
<line x1="443.10" y1="329.70" x2="450.90" y2="329.70" stroke="#111" stroke-width="1.5"/>
<line x1="443.10" y1="336.50" x2="450.90" y2="336.50" stroke="#111" stroke-width="1.5"/>
<line x1="439.30" y1="333.20" x2="454.70" y2="333.20" stroke="#111" stroke-width="1.7"/>
<polygon points="447.00,321.95 447.73,323.26 449.38,323.47 448.19,324.49 448.47,325.93 447.00,325.25 445.53,325.93 445.81,324.49 444.62,323.47 446.27,323.26" fill="#111"/>
<line x1="468.80" y1="321.60" x2="468.80" y2="335.80" stroke="#111" stroke-width="1.5"/>
<line x1="464.90" y1="321.60" x2="472.70" y2="321.60" stroke="#111" stroke-width="1.5"/>
<line x1="464.90" y1="335.80" x2="472.70" y2="335.80" stroke="#111" stroke-width="1.5"/>
<line x1="461.10" y1="328.60" x2="476.50" y2="328.60" stroke="#111" stroke-width="1.7"/>
<polygon points="468.80,313.85 469.53,315.16 471.18,315.37 469.99,316.39 470.27,317.83 468.80,317.15 467.33,317.83 467.61,316.39 466.42,315.37 468.07,315.16" fill="#111"/>
<line x1="490.60" y1="309.50" x2="490.60" y2="330.40" stroke="#111" stroke-width="1.5"/>
<line x1="486.70" y1="309.50" x2="494.50" y2="309.50" stroke="#111" stroke-width="1.5"/>
<line x1="486.70" y1="330.40" x2="494.50" y2="330.40" stroke="#111" stroke-width="1.5"/>
<line x1="482.90" y1="319.90" x2="498.30" y2="319.90" stroke="#111" stroke-width="1.7"/>
<polygon points="488.20,301.55 488.93,302.86 490.58,303.07 489.39,304.09 489.67,305.53 488.20,304.85 486.73,305.53 487.01,304.09 485.82,303.07 487.47,302.86" fill="#111"/>
<polygon points="493.00,301.55 493.73,302.86 495.38,303.07 494.19,304.09 494.47,305.53 493.00,304.85 491.53,305.53 491.81,304.09 490.62,303.07 492.27,302.86" fill="#111"/>
<text transform="translate(273.80,306.25) rotate(-90)" font-size="12.55" text-anchor="middle" fill="#111"><tspan class="sym" font-weight="normal" dy="-1.2">β</tspan><tspan font-weight="bold" dy="1.2">-Hydroxybutyrate, mmol/L</tspan></text>
<text x="0.90" y="12.80" font-size="16" font-weight="bold" text-anchor="start" fill="#111" style="stroke-width:0.6px">A</text>
<text x="258.70" y="12.70" font-size="16" font-weight="bold" text-anchor="start" fill="#111" style="stroke-width:0.5px">B</text>
<text x="0.40" y="218.90" font-size="16" font-weight="bold" text-anchor="start" fill="#111" style="stroke-width:0.6px">C</text>
<text x="258.60" y="218.80" font-size="16" font-weight="bold" text-anchor="start" fill="#111" style="stroke-width:0.5px">D</text>
<text x="47.40" y="8.85" font-size="9.75" font-weight="bold" text-anchor="start" fill="#111" >NGT</text>
<line x1="51.90" y1="11.40" x2="66.90" y2="11.40" stroke="#3a3a3a" stroke-width="1.25"/>
<text x="93.20" y="8.85" font-size="9.75" font-weight="bold" text-anchor="start" fill="#111" >IFG</text>
<line x1="76.20" y1="11.40" x2="129.40" y2="11.40" stroke="#3a3a3a" stroke-width="1.25"/>
<text x="165.05" y="8.85" font-size="9.9" font-weight="bold" text-anchor="start" fill="#111" >Diabetes</text>
<line x1="138.00" y1="11.40" x2="238.00" y2="11.40" stroke="#3a3a3a" stroke-width="1.25"/>
<text x="330.30" y="7.80" font-size="9.75" font-weight="bold" text-anchor="start" fill="#111" >NGT</text>
<line x1="310.50" y1="10.50" x2="370.00" y2="10.50" stroke="#3a3a3a" stroke-width="1.25"/>
<text x="396.80" y="7.80" font-size="9.75" font-weight="bold" text-anchor="start" fill="#111" >IGT</text>
<line x1="374.30" y1="10.50" x2="436.90" y2="10.50" stroke="#3a3a3a" stroke-width="1.25"/>
<text x="450.40" y="7.80" font-size="9.9" font-weight="bold" text-anchor="start" fill="#111" >Diabetes</text>
<line x1="441.50" y1="10.50" x2="500.00" y2="10.50" stroke="#3a3a3a" stroke-width="1.25"/>
<text x="44.40" y="434.20" font-size="12.62" font-weight="bold" text-anchor="start" fill="#111" >Fasting plasma glucose [mmol/L]</text>
<text x="286.00" y="434.30" font-size="12.65" font-weight="bold" text-anchor="start" fill="#111" >OGTT 2-hour plasma glucose [mmol/L]</text>
</svg>
</body></html>
